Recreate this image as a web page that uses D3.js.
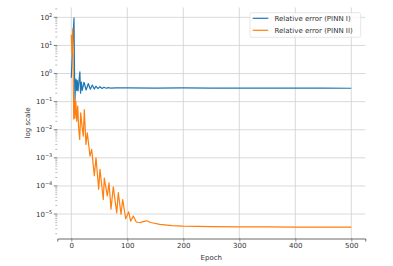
<!DOCTYPE html>
<html>
<head>
<meta charset="utf-8">
<script src="https://cdn.jsdelivr.net/npm/d3@7"></script>
<style>
	body { margin: 0; background: #fff; }
	svg text { font-family: "DejaVu Sans", sans-serif; fill: #333; }
</style>
</head>
<body>
<div class="chart"></div>
<script>

var epochsPinn1 = [0, 1.5, 3, 4.8, 5.8, 6.6, 7.6, 8.4, 9.5, 10.7, 12, 13.5, 15.3, 16.5, 18, 19.5, 22.7, 26.5, 30.4, 34, 37.5, 41, 44, 47.5, 51.2, 55, 58.4, 62, 66, 70, 80, 100, 150, 200, 250, 300, 350, 400, 450, 500];
var errorPinn1 = [0.71, 4.0, 20, 95, 1.0, 0.12, 0.5, 0.63, 0.25, 0.56, 0.24, 0.5, 1.15, 0.2, 0.5, 0.25, 0.49, 0.26, 0.44, 0.275, 0.39, 0.28, 0.355, 0.29, 0.34, 0.295, 0.325, 0.30, 0.316, 0.305, 0.31, 0.31, 0.305, 0.31, 0.305, 0.305, 0.302, 0.302, 0.302, 0.30];

var epochsPinn2 = [0, 1.2, 2.6, 3.6, 4.4, 5.4, 6.6, 8, 9.8, 11.5, 13, 15, 16.8, 19, 21.4, 23.2, 26.2, 28.6, 33.4, 36.4, 41.1, 44.1, 48.9, 51.2, 57.1, 58.9, 64.3, 67.3, 70.9, 75, 81.1, 83.9, 88.8, 91.8, 97.1, 102.5, 106, 110.7, 116, 122.7, 128, 134.6, 142, 158, 180, 200, 250, 300, 350, 400, 450, 500];
var errorPinn2 = [24, 5, 39, 0.4, 0.024, 0.14, 0.026, 0.11, 0.02, 0.07, 0.0126, 0.0045, 0.04, 0.014, 0.0059, 0.052, 0.003, 0.0078, 0.00115, 0.002, 2.3e-4, 1e-3, 7.6e-5, 3.9e-4, 3.3e-5, 1.9e-4, 4.4e-5, 1.3e-4, 1.5e-5, 9.3e-5, 1.1e-5, 5.8e-5, 9.8e-6, 3.3e-5, 6.8e-6, 1.2e-5, 5.6e-6, 8.5e-6, 5.2e-6, 4.9e-6, 5.4e-6, 5.75e-6, 5.0e-6, 4.3e-6, 3.9e-6, 3.7e-6, 3.55e-6, 3.47e-6, 3.47e-6, 3.4e-6, 3.45e-6, 3.4e-6];

var xTicks = [0, 100, 200, 300, 400, 500];
var yExponents = [-5, -4, -3, -2, -1, 0, 1, 2];
var seriesNames = ['Relative error (PINN I)', 'Relative error (PINN II)'];
var colors = ['#1f77b4', '#ff7f0e'];

function makeChart() {

	var width = 393;
	var height = 266;
	var left = 57.3, right = 365.3, top = 7.5, bottom = 238.5;

	var svg = d3.select('.chart').append('svg')
		.attr('width', width)
		.attr('height', height)
		.attr('viewBox', `0 0 ${width} ${height}`);

	var x = d3.scaleLinear().domain([-25, 525]).range([left, right]);
	var y = d3.scaleLog().domain([Math.pow(10, -5.87), Math.pow(10, 2.35)]).range([bottom, top]);

	// grid
	svg.append('g').selectAll('line')
		.data(xTicks)
		.enter().append('line')
		.attr('x1', d => x(d)).attr('x2', d => x(d))
		.attr('y1', top).attr('y2', bottom)
		.attr('stroke', '#d0d0d0').attr('stroke-width', 0.8);

	svg.append('g').selectAll('line')
		.data(yExponents)
		.enter().append('line')
		.attr('x1', left).attr('x2', right)
		.attr('y1', d => y(Math.pow(10, d))).attr('y2', d => y(Math.pow(10, d)))
		.attr('stroke', '#d0d0d0').attr('stroke-width', 0.8);

	// x axis
	var xAxis = svg.append('g')
		.attr('transform', `translate(0,${bottom})`)
		.call(d3.axisBottom(x).tickValues(xTicks).tickSize(3).tickPadding(2).tickFormat(d3.format('d')));
	xAxis.select('.domain').attr('stroke', '#444').attr('stroke-width', 0.8);
	xAxis.selectAll('.tick line').attr('stroke', '#444').attr('stroke-width', 0.6);
	xAxis.selectAll('.tick text').attr('font-size', 7).attr('fill', '#333');

	// y ticks: minor then major
	var minor = [];
	for (var e = -6; e <= 2; e++) {
		for (var m = 2; m <= 9; m++) {
			var v = m * Math.pow(10, e);
			if (v >= y.domain()[0] && v <= y.domain()[1]) minor.push(v);
		}
	}
	svg.append('g').selectAll('line')
		.data(minor)
		.enter().append('line')
		.attr('x1', left - 2).attr('x2', left)
		.attr('y1', d => y(d)).attr('y2', d => y(d))
		.attr('stroke', '#777').attr('stroke-width', 0.5);

	var yt = svg.append('g').selectAll('g')
		.data(yExponents)
		.enter().append('g')
		.attr('transform', d => `translate(0,${y(Math.pow(10, d))})`);
	yt.append('line')
		.attr('x1', left - 3.5).attr('x2', left)
		.attr('stroke', '#444').attr('stroke-width', 0.7);
	var lab = yt.append('text')
		.attr('x', left - 5)
		.attr('y', 2.5)
		.attr('text-anchor', 'end')
		.attr('font-size', 7);
	lab.append('tspan').text('10');
	lab.append('tspan')
		.attr('dy', -3)
		.attr('font-size', 5)
		.text(d => d < 0 ? '\u2212' + (-d) : d);

	// lines
	var line = d3.line()
		.x(d => x(d[0]))
		.y(d => y(d[1]));

	var series = [
		d3.zip(epochsPinn1, errorPinn1),
		d3.zip(epochsPinn2, errorPinn2)
	];

	svg.append('g').selectAll('path')
		.data(series)
		.enter().append('path')
		.attr('d', line)
		.attr('fill', 'none')
		.attr('stroke', (d, i) => colors[i])
		.attr('stroke-width', 1.2)
		.attr('stroke-linejoin', 'round');

	// axis labels
	svg.append('text')
		.attr('x', (left + right) / 2)
		.attr('y', 260)
		.attr('text-anchor', 'middle')
		.attr('font-size', 7)
		.text('Epoch');

	svg.append('text')
		.attr('transform', `translate(29.5,${(top + bottom) / 2}) rotate(-90)`)
		.attr('text-anchor', 'middle')
		.attr('font-size', 7)
		.text('log scale');

	// legend
	var legend = svg.append('g');
	legend.append('rect')
		.attr('x', 250).attr('y', 12.7)
		.attr('width', 110.7).attr('height', 24.6)
		.attr('rx', 2)
		.attr('fill', '#fff').attr('fill-opacity', 0.8)
		.attr('stroke', '#ddd').attr('stroke-width', 0.7);

	var items = legend.selectAll('g.item')
		.data(seriesNames)
		.enter().append('g')
		.attr('class', 'item')
		.attr('transform', (d, i) => `translate(0,${18.3 + i * 12})`);
	items.append('line')
		.attr('x1', 252.7).attr('x2', 268.3)
		.attr('stroke', (d, i) => colors[i]).attr('stroke-width', 1.2);
	items.append('text')
		.attr('x', 274.5)
		.attr('y', 2.5)
		.attr('font-size', 7)
		.text(d => d);
}

makeChart();

</script>
</body>
</html>
